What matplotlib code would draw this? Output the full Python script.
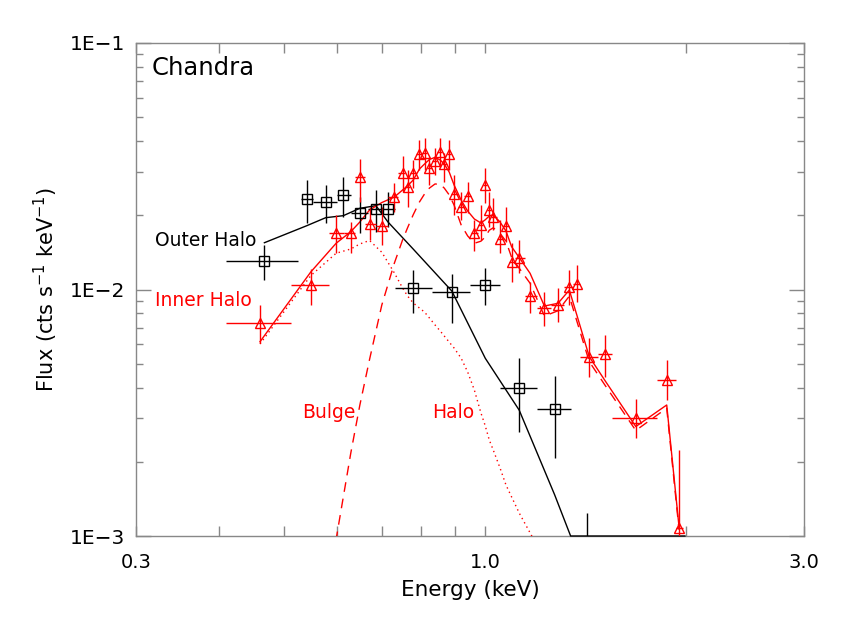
import numpy as np
import matplotlib
matplotlib.use("Agg")
import matplotlib.pyplot as plt

# ---------------- data ----------------
# Outer Halo (black squares)
oh_e = [0.467, 0.540, 0.577, 0.613, 0.649, 0.686, 0.715, 0.780, 0.891, 1.000, 1.124, 1.270, 1.420]
oh_e_lo = [0.409, 0.530, 0.552, 0.600, 0.629, 0.668, 0.700, 0.733, 0.831, 0.949, 1.052, 1.195, 1.342]
oh_e_hi = [0.524, 0.552, 0.600, 0.629, 0.668, 0.700, 0.733, 0.831, 0.949, 1.052, 1.195, 1.342, 1.501]
oh_f = [0.01305, 0.02328, 0.02265, 0.02416, 0.02049, 0.02115, 0.02115, 0.01011, 0.00974, 0.01046, 0.00397, 0.00327, 0.00070]
oh_f_lo = [0.01093, 0.01866, 0.01861, 0.01974, 0.01694, 0.01715, 0.01798, 0.00805, 0.00731, 0.00865, 0.00265, 0.00207, 0.00030]
oh_f_hi = [0.01515, 0.02780, 0.02653, 0.02868, 0.02378, 0.02533, 0.02493, 0.01200, 0.01156, 0.01222, 0.00527, 0.00446, 0.00124]
oh_model_e = [0.467, 0.540, 0.577, 0.613, 0.649, 0.686, 0.715, 0.780, 0.891, 1.000, 1.124, 1.270, 1.342, 1.680, 1.990]
oh_model = [0.01548, 0.01813, 0.01956, 0.01993, 0.02135, 0.02188, 0.01879, 0.01459, 0.00986, 0.00526,
            0.00324, 0.00147, 0.00098, 0.00030, 0.00015]

# Inner Halo (red triangles)
ih_e = [0.460, 0.548, 0.598, 0.629, 0.649, 0.671, 0.700, 0.731, 0.752, 0.765,
        0.780, 0.797, 0.811, 0.825, 0.841, 0.856, 0.868, 0.883, 0.898, 0.920,
        0.941, 0.963, 0.985, 0.999, 1.014, 1.028, 1.052, 1.074, 1.095, 1.124,
        1.167, 1.226, 1.285, 1.336, 1.372, 1.431, 1.510, 1.680, 1.869, 1.950]
ih_edges = [0.409, 0.511, 0.584, 0.614, 0.639, 0.660, 0.685, 0.715, 0.741, 0.758,
            0.772, 0.788, 0.804, 0.818, 0.833, 0.848, 0.862, 0.875, 0.890, 0.909,
            0.930, 0.952, 0.974, 0.992, 1.006, 1.021, 1.040, 1.063, 1.084, 1.109,
            1.145, 1.196, 1.255, 1.311, 1.354, 1.386, 1.475, 1.546, 1.809, 1.928, 1.980]
ih_f = [0.00729, 0.01043, 0.01690, 0.01690, 0.02847, 0.01844, 0.01810, 0.02366, 0.02977, 0.02598,
        0.02977, 0.03546, 0.03589, 0.03102, 0.03331, 0.03602, 0.03221, 0.03546, 0.02440, 0.02168,
        0.02402, 0.01690, 0.01822, 0.02647, 0.02101, 0.01974, 0.01599, 0.01810, 0.01297, 0.01342,
        0.00941, 0.00841, 0.00865, 0.01026, 0.01056, 0.00534, 0.00546, 0.00300, 0.00430, 0.00108]
ih_f_lo = [0.00605, 0.00865, 0.01403, 0.01403, 0.02271, 0.01589, 0.01515, 0.02068, 0.02493, 0.02155,
           0.02574, 0.03053, 0.03053, 0.02655, 0.02913, 0.03149, 0.02737, 0.03053, 0.02006, 0.01914,
           0.02037, 0.01437, 0.01589, 0.02237, 0.01798, 0.01743, 0.01403, 0.01563, 0.01076, 0.01163,
           0.00806, 0.00709, 0.00740, 0.00865, 0.00886, 0.00443, 0.00443, 0.00249, 0.00356, 0.00050]
ih_f_hi = [0.00865, 0.01208, 0.02006, 0.01884, 0.03375, 0.02162, 0.02155, 0.02697, 0.03480, 0.03053,
           0.03353, 0.04042, 0.04107, 0.03457, 0.03739, 0.04107, 0.03569, 0.04042, 0.02913, 0.02493,
           0.02737, 0.01914, 0.02202, 0.03102, 0.02493, 0.02344, 0.01914, 0.02168, 0.01540, 0.01589,
           0.01073, 0.00980, 0.01011, 0.01197, 0.01257, 0.00634, 0.00654, 0.00359, 0.00518, 0.00223]
ih_total = [0.00614, 0.01178, 0.01540, 0.01716, 0.01879, 0.02101, 0.02253, 0.02373, 0.02533, 0.02634,
            0.02780, 0.03082, 0.03229, 0.03369, 0.03437, 0.03353, 0.03229, 0.02996, 0.02655, 0.02307,
            0.02082, 0.01932, 0.01862, 0.01914, 0.01987, 0.02006, 0.01879, 0.01727, 0.01491, 0.01348,
            0.01163, 0.00857, 0.00879, 0.00995, 0.00783, 0.00534, 0.00428, 0.00278, 0.00340, 0.00109]
ih_bulge = [0.00001, 0.0001, 0.00097, 0.00217, 0.0034, 0.0052, 0.00865, 0.0128, 0.0159, 0.0178,
            0.0201, 0.02265, 0.0244, 0.0258, 0.0268, 0.0267, 0.0258, 0.0242, 0.0220, 0.0183,
            0.0165, 0.0154, 0.0157, 0.0163, 0.0174, 0.0178, 0.0169, 0.0157, 0.0135, 0.0122,
            0.0106, 0.0078, 0.0082, 0.0094, 0.0074, 0.0051, 0.0041, 0.00268, 0.00330, 0.00106]
ih_halo = [0.00601, 0.01139, 0.01403, 0.01460, 0.01530, 0.01581, 0.01416, 0.01167, 0.01014, 0.00941,
           0.00882, 0.00841, 0.00810, 0.00766, 0.00718, 0.00679, 0.00648, 0.00612, 0.00579, 0.00527,
           0.00463, 0.00391, 0.00316, 0.00282, 0.00245, 0.00223, 0.00189, 0.00161, 0.00144, 0.00124,
           0.00103, 0.0008, 0.0006, 0.0005, 0.00045, 0.0003, 0.00025, 0.00015, 0.0001, 0.00008]

x_major = [0.3, 1.0, 3.0]
x_major_labels = ["0.3", "1.0", "3.0"]
x_minor = [0.4, 0.5, 0.6, 0.7, 0.8, 0.9, 2.0]
y_major = [1e-3, 1e-2, 1e-1]
y_major_labels = ["1E\u22123", "1E\u22122", "1E\u22121"]

# ---------------- plot ----------------
plt.rcParams['font.family'] = ['DejaVu Sans']
RED = '#ff0000'
GRAY = '#888888'

fig = plt.figure(figsize=(8.45, 6.23), dpi=100)
ax = fig.add_axes([136 / 845, 1 - 536 / 623, 668 / 845, 493 / 623])
ax.set_xscale('log')
ax.set_yscale('log')
ax.set_xlim(0.3, 3.0)
ax.set_ylim(1e-3, 1e-1)

# models
ax.plot(oh_model_e, np.maximum(np.array(oh_model), 1e-3), color='black', lw=1.0, clip_on=False, zorder=3)
ax.plot(ih_e, ih_total, color=RED, lw=1.0, zorder=3)
ax.plot(ih_e, ih_bulge, color=RED, lw=1.0, ls=(0, (7, 5)), zorder=3)
ax.plot(ih_e, ih_halo, color=RED, lw=1.0, ls=(0, (1, 2.5)), zorder=3)

# data
oe = np.array(oh_e)
ax.errorbar(oh_e, oh_f,
            xerr=[oe - np.array(oh_e_lo), np.array(oh_e_hi) - oe],
            yerr=[np.array(oh_f) - np.array(oh_f_lo), np.array(oh_f_hi) - np.array(oh_f)],
            fmt='s', ms=6.5, mfc='none', mec='black', mew=1.0, ecolor='black', elinewidth=1.0,
            capsize=0, zorder=4)

ie = np.array(ih_e)
ed = np.array(ih_edges)
ax.errorbar(ih_e, ih_f,
            xerr=[ie - ed[:-1], ed[1:] - ie],
            yerr=[np.array(ih_f) - np.array(ih_f_lo), np.array(ih_f_hi) - np.array(ih_f)],
            fmt='^', ms=6.5, mfc='none', mec=RED, mew=1.0, ecolor=RED, elinewidth=1.0,
            capsize=0, zorder=4)

# axes styling
for s in ax.spines.values():
    s.set_color(GRAY)
    s.set_linewidth(1.0)
ax.xaxis.set_major_locator(matplotlib.ticker.FixedLocator(x_major))
ax.xaxis.set_major_formatter(matplotlib.ticker.FixedFormatter(x_major_labels))
ax.xaxis.set_minor_locator(matplotlib.ticker.FixedLocator(x_minor))
ax.xaxis.set_minor_formatter(matplotlib.ticker.NullFormatter())
ax.yaxis.set_major_locator(matplotlib.ticker.FixedLocator(y_major))
ax.yaxis.set_major_formatter(matplotlib.ticker.FixedFormatter(y_major_labels))
ax.yaxis.set_minor_locator(matplotlib.ticker.LogLocator(base=10, subs=np.arange(2, 10)))
ax.yaxis.set_minor_formatter(matplotlib.ticker.NullFormatter())

ax.tick_params(axis='x', which='both', direction='in', top=True, bottom=True, length=7,
               width=1, color=GRAY, labelsize=14, pad=12)
ax.tick_params(axis='y', which='major', direction='in', left=True, right=True, length=11,
               width=1, color=GRAY, labelsize=14.5, pad=8)
ax.tick_params(axis='y', which='minor', direction='in', left=True, right=True, length=5,
               width=1, color=GRAY)

ax.set_xlabel('Energy (keV)', fontsize=15.5, labelpad=6)
ax.set_ylabel('Flux (cts s$^{-1}$ keV$^{-1}$)', fontsize=15, labelpad=7)

# annotations
ax.text(0.024, 0.949, 'Chandra', transform=ax.transAxes, fontsize=17.5, color='black', va='center', ha='left')
ax.text(0.028, 0.600, 'Outer Halo', transform=ax.transAxes, fontsize=13.5, color='black', va='center', ha='left')
ax.text(0.028, 0.477, 'Inner Halo', transform=ax.transAxes, fontsize=13.5, color=RED, va='center', ha='left')
ax.text(0.2485, 0.2515, 'Bulge', transform=ax.transAxes, fontsize=13.5, color=RED, va='center', ha='left')
ax.text(0.443, 0.2515, 'Halo', transform=ax.transAxes, fontsize=13.5, color=RED, va='center', ha='left')

fig.savefig('out.png', dpi=100)
